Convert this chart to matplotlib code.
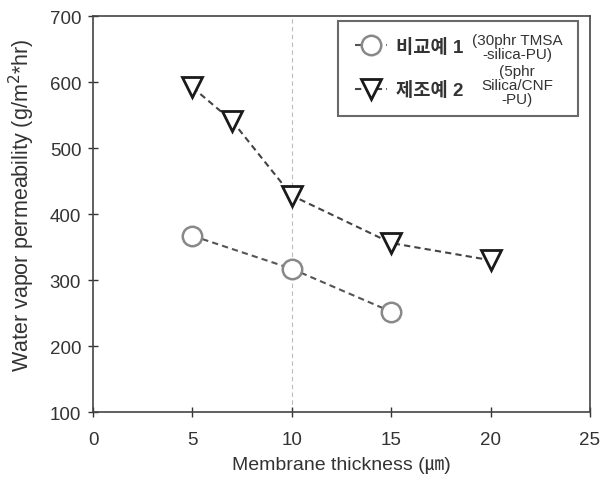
import matplotlib
matplotlib.use("Agg")
import matplotlib.pyplot as plt
from matplotlib.lines import Line2D

plt.rcParams['font.family'] = ['Liberation Sans', 'Noto Sans CJK KR', 'DejaVu Sans']

x1 = [5, 10, 15]
y1 = [367, 317, 252]
x2 = [5, 7, 10, 15, 20]
y2 = [592, 541, 428, 356, 330]
label1 = "비교예 1"
label2 = "제조예 2"
note1 = "(30phr TMSA\n-silica-PU)"
note2 = "(5phr\nSilica/CNF\n-PU)"

fig = plt.figure(figsize=(6.02, 4.89), dpi=100)
ax = fig.add_axes([0.1545, 0.1554, 0.8255, 0.8098])

ax.axvline(10, color='#bbbbbb', lw=0.8, ls=(0, (4, 3)), zorder=0)
ax.plot(x1, y1, color='#555555', lw=1.5, marker='o', ms=14,
        mfc='white', mec='#888888', mew=1.8, ls=(0, (3, 2)))
ax.plot(x2, y2, color='#444444', lw=1.5, marker='v', ms=15,
        mfc='white', mec='#1a1a1a', mew=2.0, ls=(0, (3, 2)))

ax.set_xlim(0, 25)
ax.set_ylim(100, 700)
ax.set_xticks([0, 5, 10, 15, 20, 25])
ax.set_yticks([100, 200, 300, 400, 500, 600, 700])
ax.tick_params(direction='inout', length=7, width=1, labelsize=13.5, colors='#333333')
ax.tick_params(axis='x', pad=10)
ax.tick_params(axis='y', pad=5)
for s in ax.spines.values():
    s.set_color('#444444')
    s.set_linewidth(1.2)
ax.set_xlabel("Membrane thickness (㎛)", fontsize=14, color='#333333', labelpad=6)
ax.set_ylabel("Water vapor permeability (g/m$^2$*hr)", fontsize=15.5, color='#333333')
ax.yaxis.set_label_coords(-0.113, 0.525)

h1 = Line2D([], [], color='#555555', lw=1.5, marker='o', ms=14,
            mfc='white', mec='#888888', mew=1.8, ls=(0, (3, 2)))
h2 = Line2D([], [], color='#444444', lw=1.5, marker='v', ms=15,
            mfc='white', mec='#1a1a1a', mew=2.0, ls=(0, (3, 2)))
leg = ax.legend([h1, h2], [label1, label2],
                loc='upper left', bbox_to_anchor=(0.493, 0.753, 0.483, 0.234), mode='expand',
                fontsize=13.5, frameon=True, fancybox=False, edgecolor='#444444',
                handlelength=1.7, labelspacing=1.35, borderpad=0.9, handletextpad=0.5,
                borderaxespad=0)
leg.get_frame().set_linewidth(1.5)
for t in leg.get_texts():
    t.set_fontweight('bold')
    t.set_color('#333333')

ax.text(0.853, 0.922, note1, transform=ax.transAxes, fontsize=11, color='#333333',
        ha='center', va='center', linespacing=1.0, zorder=10)
ax.text(0.853, 0.826, note2, transform=ax.transAxes, fontsize=11, color='#333333',
        ha='center', va='center', linespacing=1.0, zorder=10)

fig.savefig("out.png", dpi=100)
